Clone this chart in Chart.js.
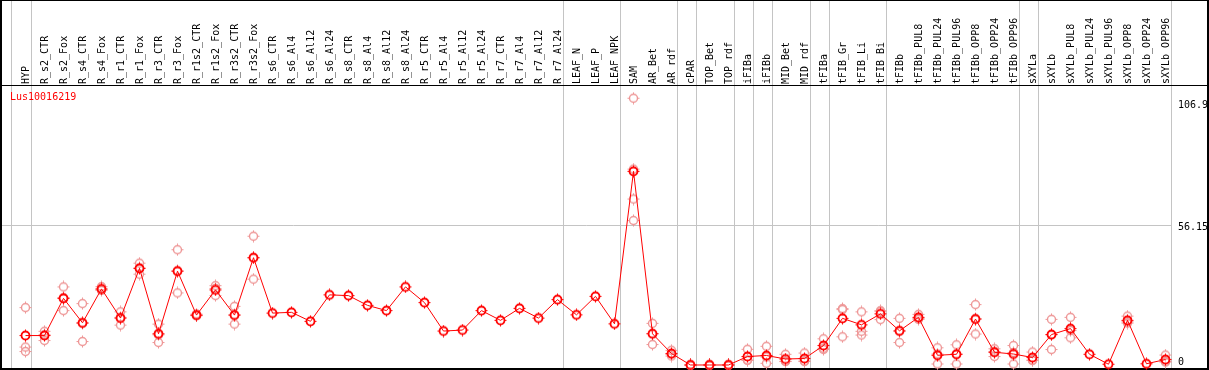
<!DOCTYPE html>
<html><head><meta charset="utf-8">
<style>html,body{margin:0;padding:0;background:#fff;}#wrap{width:1209px;height:370px;position:relative;}</style>
<script src="https://cdn.jsdelivr.net/npm/chart.js@4.4.0/dist/chart.umd.min.js"></script>
</head><body><div id="wrap"><canvas id="c" width="1209" height="370"></canvas></div>
<script>
const categories = ['HYP','R_s2_CTR','R_s2_Fox','R_s4_CTR','R_s4_Fox','R_r1_CTR','R_r1_Fox','R_r3_CTR','R_r3_Fox','R_r1s2_CTR','R_r1s2_Fox','R_r3s2_CTR','R_r3s2_Fox','R_s6_CTR','R_s6_Al4','R_s6_Al12','R_s6_Al24','R_s8_CTR','R_s8_Al4','R_s8_Al12','R_s8_Al24','R_r5_CTR','R_r5_Al4','R_r5_Al12','R_r5_Al24','R_r7_CTR','R_r7_Al4','R_r7_Al12','R_r7_Al24','LEAF_N','LEAF_P','LEAF_NPK','SAM','AR_Bet','AR_rdf','cPAR','TOP_Bet','TOP_rdf','iFIBa','iFIBb','MID_Bet','MID_rdf','tFIBa','tFIB_Gr','tFIB_Li','tFIB_Bi','tFIBb','tFIBb_PUL8','tFIBb_PUL24','tFIBb_PUL96','tFIBb_OPP8','tFIBb_OPP24','tFIBb_OPP96','sXYLa','sXYLb','sXYLb_PUL8','sXYLb_PUL24','sXYLb_PUL96','sXYLb_OPP8','sXYLb_OPP24','sXYLb_OPP96'];

const meanValues = [11.8,11.8,26.7,16.9,30.5,18.8,38.7,12.5,37.6,20.0,30.1,20.0,43.0,20.8,21.1,17.5,28.1,27.8,23.9,21.8,31.3,25.0,13.6,14.0,21.8,17.9,22.7,18.8,26.2,20.1,27.5,16.5,77.6,12.5,4.6,0,0,0,3.4,3.8,2.4,2.6,7.8,18.7,16.1,20.5,13.7,19.1,3.9,4.3,18.4,5.1,4.4,3.0,12.2,14.6,4.3,0.3,17.9,0.5,2.2];

const rep1 = [23.0,13.5,31.3,24.6,31.4,21.3,40.8,16.4,46.2,20.4,31.8,23.5,51.6,null,null,null,null,null,null,null,null,null,null,null,null,null,null,null,null,null,null,null,106.9,16.7,5.9,0,0,0,6.3,7.5,4.3,4.8,10.5,22.6,21.3,21.6,18.7,20.3,6.9,8.1,24.2,6.5,7.8,5.2,18.3,19.1,null,null,19.6,null,4.0];
const rep2 = [7.2,9.8,21.8,9.4,30.0,16.0,36.4,9.0,28.9,19.8,27.8,16.4,34.4,null,null,null,null,null,null,null,null,null,null,null,null,null,null,null,null,null,null,null,78.5,8.2,3.6,0,0,0,2.0,0.7,1.5,1.6,6.2,11.3,13.5,18.2,9.0,18.7,0.4,0.4,12.4,3.4,0.4,2.0,6.2,10.9,null,null,17.3,null,1.4];
const rep3 = [5.4,12.1,27.0,16.7,30.1,19.1,38.9,12.1,37.7,19.8,30.7,20.1,43.0,null,null,null,null,null,null,null,null,null,null,null,null,null,null,null,null,null,null,null,66.5,12.6,4.3,0,0,0,1.9,3.2,1.4,1.4,6.7,22.2,12.0,21.7,13.4,18.3,4.4,4.4,18.6,5.4,5.0,1.8,12.1,13.8,null,null,16.8,null,1.2];
const rep4 = [null,null,null,null,null,null,null,null,null,null,null,null,null,null,null,null,null,null,null,null,null,null,null,null,null,null,null,null,null,null,null,null,57.9,null,null,null,null,null,null,null,null,null,null,null,null,null,null,null,null,null,null,null,null,null,null,null,null,null,null,null,null];

const yTickValues = [0, 56.15, 106.9];
const yTickLabels = ['0', '56.15', '106.9'];
const groupEnds = ['HYP','R_r7_Al24','LEAF_NPK','AR_rdf','cPAR','TOP_rdf','iFIBa','iFIBb','MID_rdf','tFIBa','tFIB_Bi','tFIBb_OPP96','sXYLa','sXYLb_OPP96'];
const geneName = 'Lus10016219';

const FONT = '10px "DejaVu Sans Mono", monospace';

function makeMarker(color, lw) {
  const c = document.createElement('canvas');
  c.width = 13; c.height = 13;
  const g = c.getContext('2d');
  g.strokeStyle = color; g.lineWidth = lw;
  g.beginPath(); g.arc(6.5, 6.5, 4, 0, Math.PI * 2); g.stroke();
  g.fillStyle = color;
  g.fillRect(6, 0.5, 1, 1.5); g.fillRect(6, 11, 1, 1.5);
  g.fillRect(0.5, 6, 1.5, 1); g.fillRect(11, 6, 1.5, 1);
  return c;
}
const meanMarker = makeMarker('#ff0000', 1.8);
const repMarker = makeMarker('rgb(238,150,150)', 1.4);

const framePlugin = {
  id: 'frame',
  beforeDatasetsDraw(chart) {
    const ctx = chart.ctx;
    const xs = chart.scales.x, ys = chart.scales.y;
    const H = chart.height, W = chart.width;
    ctx.save();
    ctx.strokeStyle = '#c4c4c4'; ctx.lineWidth = 1;
    const first = xs.getPixelForValue(0);
    const lines = [Math.round(first - 14.5)];
    groupEnds.forEach(n => lines.push(Math.round(xs.getPixelForValue(categories.indexOf(n)) + 5)));
    ctx.beginPath();
    lines.forEach(x => { ctx.moveTo(x + 0.5, 0); ctx.lineTo(x + 0.5, H); });
    const gy = Math.round(ys.getPixelForValue(yTickValues[1]));
    ctx.moveTo(1, gy + 0.5); ctx.lineTo(lines[lines.length - 1] + 0.5, gy + 0.5);
    ctx.stroke();
    ctx.fillStyle = '#000';
    ctx.fillRect(0, 0, W, 1);
    ctx.fillRect(0, 0, 2, H);
    ctx.fillRect(1207, 0, 2, H);
    ctx.fillRect(0, 368, W, 2);
    ctx.fillRect(0, Math.round(chart.chartArea.top) - 1, W, 1);
    ctx.font = FONT; ctx.textAlign = 'left';
    const lx = 1178;
    ctx.textBaseline = 'alphabetic';
    ctx.fillText(yTickLabels[0], lx, 365);
    ctx.textBaseline = 'middle';
    ctx.fillText(yTickLabels[1], lx, ys.getPixelForValue(yTickValues[1]) + 3);
    ctx.textBaseline = 'top';
    ctx.fillText(yTickLabels[2], lx, ys.getPixelForValue(yTickValues[2]) + 2);
    ctx.fillStyle = '#ff0000';
    ctx.textBaseline = 'alphabetic';
    ctx.fillText(geneName, 10, 100);
    ctx.restore();
  }
};

function repSet(d) {
  return { data: d, showLine: false, pointStyle: repMarker, pointRadius: 5, pointHoverRadius: 5, borderColor: 'rgb(238,150,150)', backgroundColor: 'rgb(238,150,150)', clip: false };
}

new Chart(document.getElementById('c'), {
  type: 'line',
  data: {
    labels: categories,
    datasets: [
      { data: meanValues, borderColor: '#ff0000', backgroundColor: '#ff0000', borderWidth: 1, tension: 0, pointStyle: meanMarker, pointRadius: 5, pointHoverRadius: 5, clip: false },
      repSet(rep1), repSet(rep2), repSet(rep3), repSet(rep4)
    ]
  },
  options: {
    responsive: false, animation: false, devicePixelRatio: 1,
    layout: { padding: { left: 16, right: 34, top: 0, bottom: 0 } },
    plugins: { legend: { display: false }, tooltip: { enabled: false } },
    scales: {
      x: {
        type: 'category', position: 'top', offset: true,
        grid: { display: false, drawTicks: false }, border: { display: false },
        ticks: { autoSkip: false, minRotation: 90, maxRotation: 90, padding: 2, labelOffset: 13, color: '#000', font: { family: '"DejaVu Sans Mono", monospace', size: 10 } },
        afterFit(s) { s.height = 86; }
      },
      y: { type: 'linear', min: 0.4, max: 111.8, display: false }
    }
  },
  plugins: [framePlugin]
});
</script></body></html>
